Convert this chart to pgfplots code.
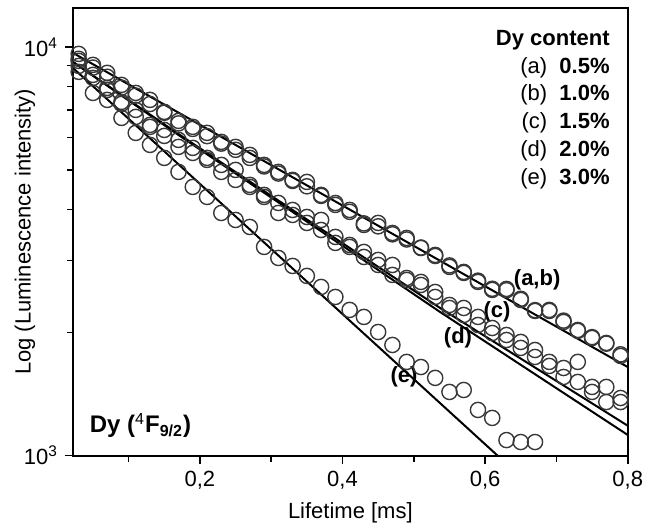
\documentclass[border=0pt]{standalone}
\usepackage{fontspec}
\setmainfont{Liberation Sans}
\usepackage{pgfplots}
\usepackage{pgfplotstable}
\pgfplotsset{compat=1.18}

% decay data (t in ms)
\pgfplotstableread{
t    a    b    c    d    e
0.03 9613 9350 9242 8985 8689
0.05 9036 8900 8541 8398 7717
0.07 8640 8450 7937 7848 7419
0.09 8073 7950 7336 7254 6704
0.11 7717 7600 7013 6741 6161
0.13 7419 7250 6444 6373 5758
0.15 6935 6900 6265 6057 5351
0.17 6592 6500 5922 5693 4945
0.19 6373 6300 5661 5503 4544
0.21 6161 6050 5351 5291 4295
0.23 5856 5800 5144 4945 3925
0.25 5693 5600 5001 4727 3773
0.27 5442 5350 4596 4544 3627
0.29 5144 5100 4344 4295 3241
0.31 4945 4900 4152 3925 3046
0.33 4727 4700 3992 3881 2912
0.35 4674 4560 3837 3710 2753
0.37 4344 4320 3773 3566 2587
0.39 4106 4150 3429 3315 2445
0.41 3992 3950 3277 3241 2273
0.43 3668 3700 3151 3063 2185
0.45 3710 3640 3012 2928 2007
0.47 3506 3480 2928 2768 1866
0.49 3409 3380 2721 2691 1696
0.51 3222 3230 2661 2616 1648
0.53 3098 3080 2515 2445 1550
0.55 2896 2920 2337 2298 1432
0.57 2815 2800 2298 2209 1448
0.59 2661 2680 2185 2088 1294
0.61 2544 2560 2053 1996 1237
0.63 2558 2540 1974 1919 1092
0.65 2404 2420 1898 1835 1080
0.67 2260 2270 1814 1744 1080
0.69 2273 2260 1696 1658 nan
0.71 2124 2140 1639 1558 nan
0.73 2030 2020 1696 1515 nan
0.75 1941 1950 1473 1432 nan
0.77 1887 1880 1473 1353 nan
0.79 1754 1770 1384 1353 nan
}\decay

\begin{document}
\begin{tikzpicture}
\begin{axis}[
    name=ax,
    scale only axis,
    width=277.35pt, height=223.85pt,
    xmin=0.022, xmax=0.8,
    ymode=log, ymin=1000, ymax=12450,
    axis line style={line width=1pt},
    tick align=outside,
    xtick pos=lower, ytick pos=left,
    xtick={0.2,0.4,0.6,0.8},
    xticklabels={{0,2},{0,4},{0,6},{0,8}},
    minor xtick={0.1,0.3,0.5,0.7},
    ytick={1000,10000},
    yticklabels={10\textsuperscript{3},10\textsuperscript{4}},
    minor ytick={2000,3000,4000,5000,6000,7000,8000,9000},
    major tick length=4pt, minor tick length=3pt,
    every tick/.style={line width=0.8pt, black},
    ticklabel style={font=\fontsize{11}{13}\selectfont},
    xlabel={Lifetime [ms]},
    ylabel={Log (Luminescence intensity)},
    label style={font=\fontsize{11}{13}\selectfont},
    ylabel style={at={(rel axis cs:-0.0865,0.5)}, anchor=center},
    circ/.style={only marks, mark=o, mark size=3.8pt,
        mark options={line width=0.7pt, draw=black!78}},
    fit/.style={line width=1pt, black, mark=none},
]
\addplot[circ] table[x=t, y=a] {\decay};
\addplot[circ] table[x=t, y=b] {\decay};
\addplot[circ] table[x=t, y=c] {\decay};
\addplot[circ] table[x=t, y=d] {\decay};
\addplot[circ] table[x=t, y=e] {\decay};

% fitted decays
\addplot[fit] coordinates {(0.022,9667) (0.8,1648)};
\addplot[fit] coordinates {(0.0218,9190) (0.1719,6090) (0.3404,3881) (0.5368,2298) (0.8,1184)};
\addplot[fit] coordinates {(0.0218,9190) (0.1719,6056) (0.3404,3838) (0.5368,2247) (0.8,1124)};
\addplot[fit] coordinates {(0.0218,8885) (0.65,888)};

\node[font=\bfseries\fontsize{11}{13}\selectfont] at (axis cs:0.673,2691) {(a,b)};
\node[font=\bfseries\fontsize{11}{13}\selectfont] at (axis cs:0.6168,2247) {(c)};
\node[font=\bfseries\fontsize{11}{13}\selectfont] at (axis cs:0.562,1941) {(d)};
\node[font=\bfseries\fontsize{11}{13}\selectfont] at (axis cs:0.4863,1558) {(e)};

\node[anchor=base west, font=\bfseries\fontsize{12}{14}\selectfont]
    at (axis cs:0.0358,1137) {Dy (\textsuperscript{\mdseries 4}F\textsubscript{9/2})};

\node[anchor=north east, align=right, inner sep=0pt,
      font=\fontsize{11}{13.85}\selectfont]
    at ([xshift=-8.85pt, yshift=-11pt]rel axis cs:1,1)
    {\textbf{Dy content}\\
     (a)\ \ \textbf{0.5\%}\\
     (b)\ \ \textbf{1.0\%}\\
     (c)\ \ \textbf{1.5\%}\\
     (d)\ \ \textbf{2.0\%}\\
     (e)\ \ \textbf{3.0\%}};
\end{axis}
\pgfresetboundingbox
\path ([shift={(-36.5pt,-35.15pt)}]ax.south west) rectangle ([shift={(14.65pt,4pt)}]ax.north east);
\end{tikzpicture}
\end{document}
